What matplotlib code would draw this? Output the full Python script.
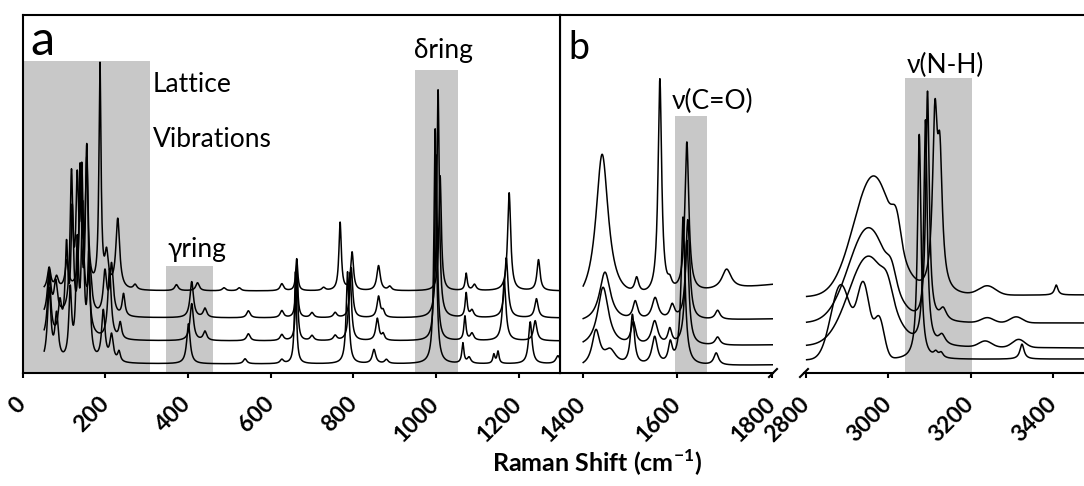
import numpy as np
import matplotlib
matplotlib.use("Agg")
import matplotlib.pyplot as plt

plt.rcParams['font.family'] = ['Lato', 'DejaVu Sans']
plt.rcParams['mathtext.fontset'] = 'custom'
plt.rcParams['mathtext.rm'] = 'Lato'
plt.rcParams['mathtext.bf'] = 'Lato:bold'
plt.rcParams['axes.linewidth'] = 1.5

# ---- panel a, 50-1300 cm-1 (spectra top to bottom) ----
# baseline level, then peak centre / height / half width
a_base = [82, 55, 32, 9]
a_pos = [
    [64, 82, 107, 140, 155, 187, 203, 230, 272, 372, 423, 487, 524, 627, 663, 728, 768, 797, 861, 888, 1010, 1073, 1093, 1177, 1248],
    [64, 80, 118, 132, 143, 163, 199, 215, 244, 409, 441, 546, 627, 663, 700, 756, 795, 861, 872, 1005, 1073, 1087, 1170, 1243],
    [64, 90, 106, 120, 139, 155, 210, 236, 409, 441, 546, 627, 663, 700, 756, 792, 858, 872, 1000, 1070, 1087, 1165, 1240],
    [64, 82, 115, 132, 145, 160, 195, 215, 233, 401, 538, 627, 660, 786, 850, 880, 998, 1065, 1080, 1140, 1150, 1228, 1295],
]
a_amp = [
    [22, 12, 28, 100, 125, 222, 32, 70, 5, 6, 8, 3, 3, 7, 32, 3, 68, 38, 25, 4, 115, 17, 6, 98, 31],
    [45, 32, 135, 120, 135, 42, 42, 50, 22, 36, 9, 7, 7, 52, 5, 5, 50, 21, 6, 228, 24, 7, 60, 19],
    [62, 32, 85, 120, 160, 185, 70, 16, 37, 9, 7, 6, 72, 5, 5, 68, 22, 6, 186, 24, 7, 60, 20],
    [72, 45, 68, 110, 145, 100, 50, 26, 10, 40, 5, 4, 92, 92, 14, 4, 235, 20, 6, 9, 12, 42, 8],
]
a_wid = [
    [5, 5, 5, 4, 4, 3, 5, 5.5, 5, 5, 5, 5, 5, 5, 3, 5, 3.5, 4, 5, 5, 3.5, 3, 5, 4.5, 4.5],
    [5, 5, 4, 4, 4, 5, 5, 5, 4, 5, 5, 5, 5, 3, 5, 5, 4, 4.5, 4, 3.5, 3, 5, 5, 5],
    [5, 5, 4, 4, 4, 4, 5, 4, 5, 5, 5, 5, 3, 5, 5, 4, 4.5, 4, 3.5, 3, 5, 5, 5],
    [5, 5, 4, 4, 4, 4, 5, 5, 4, 5, 5, 5, 3, 4, 5, 5, 3.5, 3, 5, 3, 3, 5, 6],
]

# ---- panel b, 1400-1800 cm-1 ----
b1_base = [(66, 88), (50, 54), (25, 28), (5, 8)]
b1_pos = [
    [1441, 1514, 1563, 1584, 1620, 1704],
    [1447, 1511, 1553, 1589, 1622, 1685],
    [1443, 1507, 1552, 1584, 1620, 1685],
    [1428, 1458, 1505, 1552, 1585, 1612, 1682],
]
b1_amp = [
    [150, 15, 215, 8, 150, 20],
    [50, 18, 22, 14, 100, 9],
    [60, 22, 24, 15, 105, 8],
    [35, 15, 50, 28, 20, 148, 12],
]
b1_wid = [
    [16, 5, 4.5, 5, 5, 12],
    [14, 6, 8, 6, 5, 6],
    [14, 6, 8, 5, 5, 6],
    [10, 15, 5, 7, 5, 5, 6],
]

# ---- panel b, 2800-3500 cm-1: sharp bands + broad bands ----
b2_base = [(76, 78), (50, 50), (27, 25), (13, 14)]
b2_pos = [[3113, 3125, 3407], [3095, 3133], [3090, 3130], [3075, 3115, 3128, 3324]]
b2_amp = [[165, 120, 10], [230, 12], [225, 10], [225, 5, 5, 15]]
b2_wid = [[7, 7, 5], [5, 10], [5, 10], [5, 6, 6, 6]]
b2_broad_pos = [[2964, 3020, 3240], [2952, 3008, 3240, 3310], [2952, 2998, 3235, 3316], [2885, 2940, 2978]]
b2_broad_amp = [[120, 25, 9], [95, 14, 5, 6], [90, 15, 6, 8], [75, 72, 40]]
b2_broad_sig = [[48, 10, 20], [48, 10, 15, 15], [48, 12, 15, 15], [24, 15, 12]]

# shaded assignment regions: (low, high, top)
bands_a = [(0, 308, 312), (347, 461, 107), (950, 1053, 303)]
bands_b1 = [(1594, 1663, 257)]
bands_b2 = [(3040, 3204, 295)]

W, H = 1084, 486
GREY = '#c8c8c8'
LW = 1.1


def lorentz(x, pos, amp, wid):
    y = np.zeros_like(x)
    for c, h, w in zip(pos, amp, wid):
        y = y + h / (1 + ((x - c) / w) ** 2)
    return y


def gauss(x, pos, amp, sig):
    y = np.zeros_like(x)
    for c, h, s in zip(pos, amp, sig):
        y = y + h * np.exp(-(x - c) ** 2 / (2 * s ** 2))
    return y


def box(x0, x1, top=15, bot=373):
    return [x0 / W, 1 - bot / H, (x1 - x0) / W, (bot - top) / H]


def style(ax, ticks, xlim):
    ax.set_xlim(*xlim)
    ax.set_ylim(0, 358)
    ax.set_yticks([])
    ax.set_xticks(ticks, labels=[str(t) for t in ticks], rotation=45, ha='right',
                  va='center', rotation_mode='anchor', fontweight='bold', fontsize=16.5)
    ax.tick_params(axis='x', direction='out', length=3.8, width=1.5, pad=16)


fig = plt.figure(figsize=(W / 100, H / 100), dpi=100)

# frame of panel b (left + top only, runs off the right edge)
ax_bf = fig.add_axes(box(560, 1110))
ax_bf.set_xticks([])
ax_bf.set_yticks([])
ax_bf.set_facecolor('none')
for s in ['bottom', 'right']:
    ax_bf.spines[s].set_visible(False)

ax_a = fig.add_axes(box(22.7, 560))
ax_b1 = fig.add_axes(box(560, 773))
ax_b2 = fig.add_axes(box(804, 1094.6))
for ax in [ax_b1, ax_b2]:
    ax.set_facecolor('none')
    for s in ['left', 'right', 'top']:
        ax.spines[s].set_visible(False)

# panel a
for lo, hi, top in bands_a:
    ax_a.fill_between([lo, hi], 0, top, color=GREY, lw=0, zorder=0)
xa = np.arange(52, 1300.5, 0.5)
for i in range(4):
    ya = a_base[i] + lorentz(xa, a_pos[i], a_amp[i], a_wid[i])
    ax_a.plot(xa, ya, color='k', lw=LW)
style(ax_a, list(range(0, 1201, 200)), (0, 1300))

# panel b, left part
for lo, hi, top in bands_b1:
    ax_b1.fill_between([lo, hi], 0, top, color=GREY, lw=0, zorder=0)
xb1 = np.arange(1401, 1803, 0.5)
for i in range(4):
    base = np.interp(xb1, [xb1[0], xb1[-1]], b1_base[i])
    yb = base + lorentz(xb1, b1_pos[i], b1_amp[i], b1_wid[i])
    ax_b1.plot(xb1, yb, color='k', lw=LW)
style(ax_b1, [1400, 1600, 1800], (1352, 1802))

# panel b, right part
for lo, hi, top in bands_b2:
    ax_b2.fill_between([lo, hi], 0, top, color=GREY, lw=0, zorder=0)
xb2 = np.arange(2802, 3500, 0.5)
for i in range(4):
    base = np.interp(xb2, [xb2[0], 3474], b2_base[i])
    yb = (base + lorentz(xb2, b2_pos[i], b2_amp[i], b2_wid[i])
          + gauss(xb2, b2_broad_pos[i], b2_broad_amp[i], b2_broad_sig[i]))
    ax_b2.plot(xb2, yb, color='k', lw=LW)
style(ax_b2, [2800, 3000, 3200, 3400], (2795.6, 3500))

# axis break marks
dy = 4 / 358
dx = 4 / 213
ax_b1.plot([1 - dx, 1 + dx], [-dy, dy], transform=ax_b1.transAxes, color='k', lw=1.5, clip_on=False)
dx = 4 / 290.6
ax_b2.plot([-dx, dx], [-dy, dy], transform=ax_b2.transAxes, color='k', lw=1.5, clip_on=False)

# labels
ax_a.text(315, 280.7, 'Lattice', fontsize=19, va='baseline')
ax_a.text(315, 225.7, 'Vibrations', fontsize=19, va='baseline')
ax_a.text(349, 115.5, 'γring', fontsize=19, va='baseline')
ax_a.text(946, 315, 'δring', fontsize=19, va='baseline')
ax_b1.text(1588, 263.7, 'ν(C=O)', fontsize=19, va='baseline', clip_on=False)
ax_b2.text(3044, 299.7, 'ν(N-H)', fontsize=19, va='baseline', clip_on=False)

fig.text(30 / W, 1 - 55 / H, 'a', fontsize=35, va='baseline')
fig.text(568 / W, 1 - 59.3 / H, 'b', fontsize=27, va='baseline')
fig.text(597.5 / W, 1 - 471.7 / H, r'Raman Shift (cm$^{\mathbf{-1}}$)', fontsize=18,
         fontweight='bold', ha='center', va='baseline')

fig.savefig('out.png', dpi=100)
